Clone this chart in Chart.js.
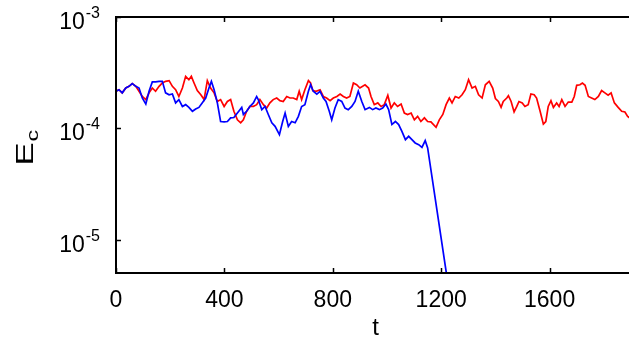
<!DOCTYPE html>
<html>
<head>
<meta charset="utf-8">
<script src="https://cdn.jsdelivr.net/npm/chart.js@4.4.0/dist/chart.umd.min.js"></script>
<style>
  html, body { margin: 0; padding: 0; background: #ffffff; }
  #wrap { width: 629px; height: 354px; }
</style>
</head>
<body>
<div id="wrap"><canvas id="ec" width="629" height="354"></canvas></div>
<script>
'use strict';

// ── data ─────────────────────────────────────────────────────────────────────
var tRed = [
    0, 11, 23, 36, 48, 60, 73, 85, 97, 110,
    122, 134, 146, 159, 171, 183, 196, 208, 220, 232,
    245, 257, 269, 278, 288, 300, 313, 325, 337, 349,
    362, 374, 386, 399, 411, 423, 435, 448, 460, 470,
    482, 494, 507, 519, 531, 544, 556, 568, 580, 593,
    605, 617, 630, 642, 654, 667, 676, 685, 697, 710,
    718, 726, 738, 753, 765, 777, 790, 802, 815, 827,
    839, 851, 863, 876, 888, 900, 919, 932, 941, 953,
    966, 978, 990, 1003, 1015, 1027, 1039, 1052, 1064, 1076,
    1089, 1101, 1113, 1125, 1138, 1150, 1162, 1181, 1193, 1206,
    1218, 1230, 1240, 1252, 1265, 1277, 1289, 1301, 1314, 1326,
    1338, 1351, 1363, 1377, 1390, 1400, 1411, 1421, 1429, 1442,
    1448, 1458, 1469, 1479, 1487, 1499, 1509, 1521, 1531, 1543,
    1552, 1565, 1577, 1586, 1595, 1605, 1614, 1626, 1635, 1645,
    1657, 1669, 1682, 1691, 1700, 1712, 1721, 1731, 1743, 1755,
    1767, 1780, 1792, 1804, 1816, 1827, 1839, 1853, 1866, 1878,
    1888, 1895
];
var eRed = [
    2.15e-4, 2.22e-4, 2.08e-4, 2.30e-4, 2.38e-4, 2.52e-4, 2.38e-4, 2.15e-4, 1.93e-4, 1.81e-4,
    2.08e-4, 2.30e-4, 2.15e-4, 2.38e-4, 2.55e-4, 2.64e-4, 2.68e-4, 2.38e-4, 2.22e-4, 1.93e-4,
    2.30e-4, 2.93e-4, 2.73e-4, 2.93e-4, 2.55e-4, 2.18e-4, 2.00e-4, 1.81e-4, 2.68e-4, 2.30e-4,
    2.08e-4, 1.74e-4, 1.81e-4, 1.57e-4, 1.74e-4, 1.81e-4, 1.42e-4, 1.19e-4, 1.12e-4, 1.19e-4,
    1.42e-4, 1.57e-4, 1.57e-4, 1.63e-4, 1.81e-4, 1.63e-4, 1.52e-4, 1.69e-4, 1.81e-4, 1.87e-4,
    1.77e-4, 1.74e-4, 1.93e-4, 1.87e-4, 1.87e-4, 1.81e-4, 2.15e-4, 1.81e-4, 2.22e-4, 2.68e-4,
    2.55e-4, 2.18e-4, 2.15e-4, 2.22e-4, 1.93e-4, 1.87e-4, 1.77e-4, 1.87e-4, 1.93e-4, 2.03e-4,
    1.93e-4, 1.87e-4, 1.93e-4, 2.55e-4, 2.46e-4, 2.30e-4, 2.46e-4, 2.30e-4, 1.93e-4, 1.63e-4,
    1.69e-4, 1.57e-4, 1.63e-4, 1.98e-4, 1.52e-4, 1.69e-4, 1.57e-4, 1.65e-4, 1.37e-4, 1.33e-4,
    1.37e-4, 1.19e-4, 1.28e-4, 1.15e-4, 1.24e-4, 1.15e-4, 1.14e-4, 1.02e-4, 1.19e-4, 1.33e-4,
    1.63e-4, 1.87e-4, 1.69e-4, 1.93e-4, 1.87e-4, 2.00e-4, 2.22e-4, 2.73e-4, 2.30e-4, 2.38e-4,
    2.00e-4, 1.87e-4, 2.46e-4, 2.64e-4, 2.30e-4, 1.85e-4, 1.74e-4, 1.54e-4, 1.74e-4, 1.87e-4,
    1.96e-4, 1.74e-4, 1.40e-4, 1.57e-4, 1.74e-4, 1.69e-4, 1.57e-4, 1.63e-4, 2.03e-4, 2.00e-4,
    1.87e-4, 1.42e-4, 1.09e-4, 1.15e-4, 1.57e-4, 1.77e-4, 1.54e-4, 1.69e-4, 1.57e-4, 1.81e-4,
    1.57e-4, 1.72e-4, 1.72e-4, 1.93e-4, 2.43e-4, 2.46e-4, 2.55e-4, 2.43e-4, 1.93e-4, 1.87e-4,
    1.81e-4, 1.93e-4, 2.18e-4, 2.08e-4, 1.98e-4, 2.08e-4, 1.69e-4, 1.54e-4, 1.42e-4, 1.40e-4,
    1.28e-4, 1.24e-4
];

var tBlue = [
    0, 11, 23, 36, 48, 60, 73, 85, 97, 110,
    122, 134, 146, 159, 171, 183, 196, 208, 220, 232,
    245, 257, 269, 282, 294, 306, 318, 331, 343, 352,
    362, 374, 386, 399, 411, 423, 435, 448, 464, 470,
    482, 494, 507, 519, 525, 538, 550, 562, 575, 587,
    603, 615, 624, 636, 648, 661, 673, 685, 697, 710,
    718, 728, 741, 753, 765, 775, 787, 796, 808, 820,
    833, 845, 857, 870, 882, 894, 907, 919, 935, 947,
    959, 972, 984, 996, 1006, 1018, 1031, 1043, 1055, 1068,
    1080, 1092, 1104, 1117, 1129, 1141, 1150, 1219
];
var eBlue = [
    2.15e-4, 2.22e-4, 2.08e-4, 2.30e-4, 2.38e-4, 2.52e-4, 2.38e-4, 2.30e-4, 1.87e-4, 1.65e-4,
    2.15e-4, 2.61e-4, 2.61e-4, 2.64e-4, 2.64e-4, 2.08e-4, 2.00e-4, 2.03e-4, 1.69e-4, 1.81e-4,
    1.57e-4, 1.63e-4, 1.54e-4, 1.42e-4, 1.49e-4, 1.54e-4, 1.69e-4, 1.87e-4, 2.30e-4, 2.64e-4,
    2.22e-4, 1.69e-4, 1.15e-4, 1.14e-4, 1.15e-4, 1.24e-4, 1.25e-4, 1.37e-4, 1.54e-4, 1.33e-4,
    1.42e-4, 1.57e-4, 1.69e-4, 1.93e-4, 1.81e-4, 1.47e-4, 1.57e-4, 1.33e-4, 1.12e-4, 1.04e-4,
    8.76e-5, 1.15e-4, 1.37e-4, 1.04e-4, 1.15e-4, 1.12e-4, 1.28e-4, 1.57e-4, 1.63e-4, 2.15e-4,
    2.46e-4, 2.15e-4, 2.03e-4, 2.15e-4, 1.87e-4, 1.74e-4, 1.42e-4, 1.19e-4, 1.52e-4, 1.81e-4,
    1.74e-4, 1.52e-4, 1.47e-4, 1.57e-4, 1.74e-4, 2.15e-4, 1.74e-4, 1.47e-4, 1.54e-4, 1.47e-4,
    1.52e-4, 1.47e-4, 1.52e-4, 1.65e-4, 1.47e-4, 1.08e-4, 1.15e-4, 1.08e-4, 9.38e-5, 7.90e-5,
    8.46e-5, 7.90e-5, 7.38e-5, 7.12e-5, 6.73e-5, 7.74e-5, 6.65e-5, 5.0e-6
];

// axis ticks
var xTicks = [0, 400, 800, 1200, 1600];
var yTickExps = [-5, -4, -3];

var X_MIN = 0, X_MAX = 1893;
var Y_MIN = 5e-6, Y_MAX = 1e-3;

var FONT = "'Liberation Sans', Arial, Helvetica, sans-serif";

function toPoints(ts, es) {
    return ts.map(function (t, i) { return { x: t, y: es[i] }; });
}

// ── frame, tick marks and gnuplot-style labels ───────────────────────────────
var framePlugin = {
    id: 'frame',
    afterDraw: function (chart) {
        var ctx = chart.ctx;
        var a = chart.chartArea;
        var sx = chart.scales.x, sy = chart.scales.y;
        var tick = 5;

        ctx.save();
        ctx.strokeStyle = '#000';
        ctx.lineWidth = 2;
        ctx.beginPath();
        ctx.moveTo(chart.width, a.top); ctx.lineTo(a.left, a.top);
        ctx.lineTo(a.left, a.bottom); ctx.lineTo(chart.width, a.bottom);
        ctx.stroke();

        ctx.lineWidth = 1.5;
        ctx.beginPath();
        xTicks.forEach(function (v) {
            var px = Math.round(sx.getPixelForValue(v)) + 0.5;
            ctx.moveTo(px, a.bottom); ctx.lineTo(px, a.bottom - tick);
            ctx.moveTo(px, a.top); ctx.lineTo(px, a.top + tick);
        });
        yTickExps.forEach(function (e) {
            var py = Math.round(sy.getPixelForValue(Math.pow(10, e))) + 0.5;
            ctx.moveTo(a.left, py); ctx.lineTo(a.left + tick, py);
        });
        ctx.stroke();

        ctx.fillStyle = '#000';
        ctx.textBaseline = 'alphabetic';

        // x tick labels
        ctx.font = '23px ' + FONT;
        ctx.textAlign = 'center';
        xTicks.forEach(function (v) {
            ctx.fillText(String(v), sx.getPixelForValue(v), a.bottom + 34);
        });

        // y tick labels: 10^e
        yTickExps.forEach(function (e) {
            var py = sy.getPixelForValue(Math.pow(10, e));
            var sup = String(e);
            ctx.font = '16px ' + FONT;
            var wSup = ctx.measureText(sup).width;
            ctx.font = '23px ' + FONT;
            var wBase = ctx.measureText('10').width;
            var right = 100;
            ctx.textAlign = 'left';
            ctx.fillText('10', right - wSup - wBase - 1, py + 12);
            ctx.font = '16px ' + FONT;
            ctx.fillText(sup, right - wSup, py + 1);
        });

        // x title
        ctx.font = '24px ' + FONT;
        ctx.textAlign = 'center';
        ctx.fillText('t', (a.left + a.right) / 2 + 3, 335);

        // y title E_c (rotated)
        ctx.translate(32.5, 165.5);
        ctx.rotate(-Math.PI / 2);
        ctx.scale(1.45, 1);
        ctx.textAlign = 'left';
        ctx.font = '24px ' + FONT;
        ctx.fillText('E', 0, 0);
        var wE = ctx.measureText('E').width;
        ctx.font = '16px ' + FONT;
        ctx.fillText('c', wE + 0.5, 5);
        ctx.restore();
    }
};

new Chart(document.getElementById('ec').getContext('2d'), {
    type: 'line',
    data: {
        datasets: [
            {
                label: 'blue',
                data: toPoints(tBlue, eBlue),
                borderColor: '#0000ff',
                borderWidth: 1.7,
                pointRadius: 0,
                tension: 0,
                fill: false
            },
            {
                label: 'red',
                data: toPoints(tRed, eRed),
                borderColor: '#ff0000',
                borderWidth: 1.7,
                pointRadius: 0,
                tension: 0,
                fill: false
            }
        ]
    },
    options: {
        responsive: false,
        animation: false,
        events: [],
        layout: { padding: { left: 116, top: 17, right: 0, bottom: 81 } },
        plugins: {
            legend: { display: false },
            tooltip: { enabled: false }
        },
        scales: {
            x: { type: 'linear', min: X_MIN, max: X_MAX, display: false },
            y: { type: 'logarithmic', min: Y_MIN, max: Y_MAX, display: false }
        }
    },
    plugins: [framePlugin]
});
</script>
</body>
</html>
